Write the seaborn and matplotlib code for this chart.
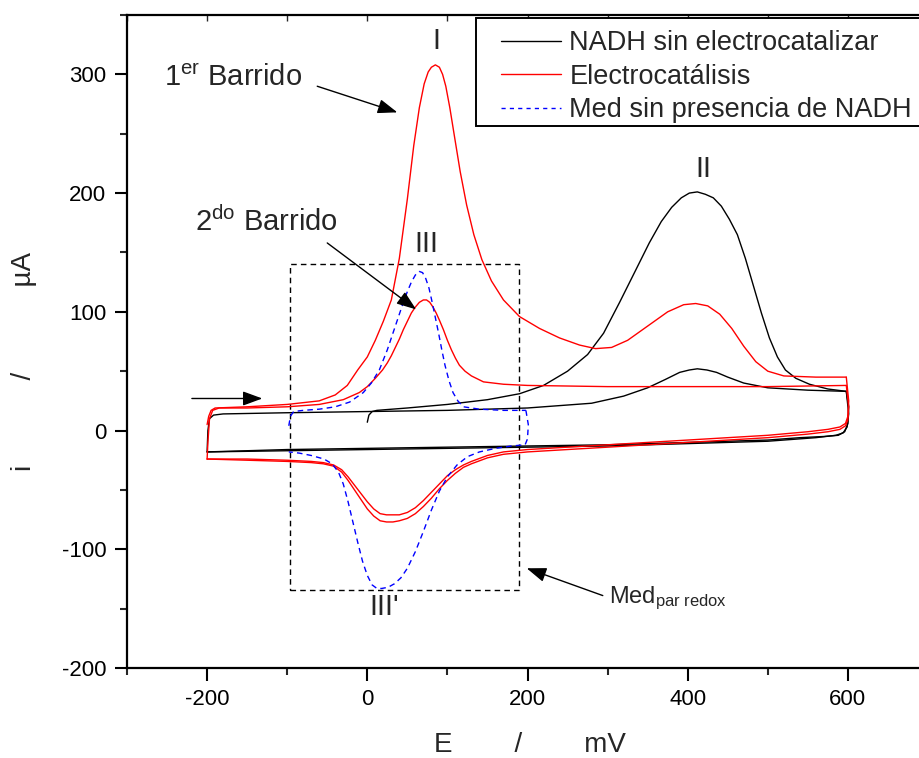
import numpy as np
import pandas as pd
import seaborn as sns
import matplotlib.pyplot as plt
from matplotlib.lines import Line2D
from matplotlib.patches import Rectangle

# ---- voltammogram branches (E in mV, i in uA) ----
# NADH without electrocatalyst
nadh_fwd1_E = [0, 2, 6, 12, 50, 100, 150, 190, 220, 250, 275, 295, 315, 335, 352, 367, 380, 392, 402,
               412, 422, 432, 442, 452, 462, 472, 482, 492, 502, 512, 522, 535, 552, 575, 598]
nadh_fwd1_i = [7, 13, 16, 17, 19, 22, 26, 31, 38, 50, 64, 82, 108, 135, 158, 176, 188, 196, 200,
               201, 199, 196, 189, 178, 165, 145, 122, 99, 78, 62, 51, 44, 39, 35, 33]
nadh_rev1_E = [598, 601, 600, 596, 588, 570, 540, 500, 400, 300, 200, 100, 0, -100, -200]
nadh_rev1_i = [33, 20, 6, -1, -4, -5, -6, -8, -10, -12, -13, -14, -15, -16, -18]
nadh_fwd2_E = [-200, -199, -197, -192, -180, -100, 0, 100, 200, 280, 320, 350, 372, 390, 402, 412,
               424, 436, 450, 470, 500, 550, 598]
nadh_fwd2_i = [-18, 0, 10, 13, 14, 15, 16, 17, 19, 23, 29, 36, 43, 49, 51, 52, 51, 49, 45, 40, 36, 34, 33]
nadh_rev2_E = [598, 601, 599, 594, 585, 560, 500, 400, 300, 200, 100, 0, -100, -200]
nadh_rev2_i = [33, 14, 3, -2, -4, -6, -9, -11, -13, -14, -15, -16, -17, -18]

# electrocatalysis, first sweep
cat_fwd1_E = [-200, -198, -195, -190, -150, -100, -60, -40, -25, -12, 0, 10, 20, 30, 40, 50, 58, 65,
              71, 76, 80, 85, 90, 94, 98, 103, 109, 116, 124, 133, 143, 155, 170, 190, 215, 240,
              265, 285, 305, 325, 350, 375, 395, 410, 425, 440, 455, 470, 485, 500, 520, 560, 598]
cat_fwd1_i = [5, 12, 17, 19, 20, 22, 25, 30, 38, 51, 62, 76, 92, 110, 145, 195, 240, 272,
              292, 302, 306, 308, 306, 300, 290, 272, 247, 218, 190, 165, 144, 126, 110, 96, 86, 78,
              72, 69, 70, 76, 88, 100, 106, 107, 105, 98, 86, 71, 58, 50, 46, 45, 45]
cat_rev1_E = [598, 601, 600, 597, 590, 575, 550, 500, 450, 400, 350, 300, 250, 200, 170, 150, 130,
              120, 110, 100, 90, 80, 70, 60, 50, 40, 32, 24, 16, 8, 0, -8, -16, -24, -32, -42, -55,
              -70, -100, -150, -200]
cat_rev1_i = [45, 25, 12, 6, 3, 1, -1, -4, -6, -8, -10, -12, -14, -16, -18, -21, -26,
              -29, -33, -38, -45, -52, -59, -65, -69, -71, -71, -71, -70, -66, -60, -53, -46, -39,
              -33, -29, -27, -26, -25, -24, -24]

# electrocatalysis, second sweep
cat_fwd2_E = [-200, -199, -197, -193, -185, -150, -100, -60, -30, -10, 0, 10, 19, 25, 30, 35, 40, 45,
              50, 55, 60, 65, 70, 74, 78, 82, 86, 90, 95, 100, 105, 110, 115, 122, 130, 145, 170,
              200, 300, 400, 500, 598]
cat_fwd2_i = [-24, -10, 10, 17, 19, 19, 20, 22, 26, 32, 37, 44, 51, 57, 63, 70, 77, 85,
              92, 99, 104, 108, 110, 110, 108, 104, 99, 93, 85, 76, 68, 61, 55, 50, 46, 41, 39,
              38, 37, 37, 37, 38]
cat_rev2_E = [598, 601, 600, 597, 590, 575, 550, 500, 450, 400, 350, 300, 250, 200, 170, 150, 130,
              120, 110, 100, 90, 80, 70, 60, 50, 40, 32, 24, 16, 8, 0, -8, -16, -24, -32, -42, -55,
              -70, -100, -150, -200]
cat_rev2_i = [38, 20, 9, 4, 1, -1, -3, -6, -8, -10, -12, -14, -16, -18, -20, -23, -28,
              -31, -36, -42, -49, -57, -64, -70, -74, -76, -77, -77, -76, -72, -66, -58, -50, -42,
              -35, -30, -28, -27, -26, -25, -24]

# mediator without NADH
med_fwd_E = [-98, -96, -92, -80, -60, -40, -22, -5, 5, 15, 25, 35, 45, 50, 55, 60, 65, 69, 73, 77,
             81, 85, 89, 93, 97, 102, 107, 113, 120, 140, 170, 198]
med_fwd_i = [4, 12, 16, 17, 18, 20, 24, 32, 40, 51, 68, 88, 108, 117, 125, 131, 134, 133, 128, 120,
             108, 95, 82, 68, 55, 42, 32, 25, 20, 18, 17, 17]
med_rev_E = [198, 201, 200, 197, 180, 160, 140, 125, 112, 100, 90, 80, 70, 60, 50, 42, 34, 26, 18,
             12, 6, 0, -6, -12, -18, -24, -30, -36, -44, -54, -70, -85, -98]
med_rev_i = [17, 5, -7, -12, -13, -15, -18, -22, -29, -39, -51, -67, -85, -102, -116, -124, -129,
             -132, -133, -133, -130, -122, -110, -94, -77, -60, -45, -35, -28, -24, -21, -19, -18]

series_names = ["NADH sin electrocatalizar", "Electrocatálisis", "Med sin presencia de NADH"]
series_colors = {series_names[0]: "black", series_names[1]: "#ff0000", series_names[2]: "#0000ff"}
series_dashes = {series_names[0]: "", series_names[1]: "", series_names[2]: (4, 3)}

branches = [
    (series_names[0], "n1", nadh_fwd1_E, nadh_fwd1_i),
    (series_names[0], "n2", nadh_rev1_E, nadh_rev1_i),
    (series_names[0], "n3", nadh_fwd2_E, nadh_fwd2_i),
    (series_names[0], "n4", nadh_rev2_E, nadh_rev2_i),
    (series_names[1], "c1", cat_fwd1_E, cat_fwd1_i),
    (series_names[1], "c2", cat_rev1_E, cat_rev1_i),
    (series_names[1], "c3", cat_fwd2_E, cat_fwd2_i),
    (series_names[1], "c4", cat_rev2_E, cat_rev2_i),
    (series_names[2], "m1", med_fwd_E, med_fwd_i),
    (series_names[2], "m2", med_rev_E, med_rev_i),
]
frames = []
for serie, tramo, E, i in branches:
    frames.append(pd.DataFrame({"E": E, "i": i, "serie": serie, "tramo": tramo}))
df = pd.concat(frames, ignore_index=True)

sns.set_theme(style="ticks")
plt.rcParams["font.family"] = ["Liberation Sans", "DejaVu Sans"]
plt.rcParams["mathtext.fontset"] = "custom"
plt.rcParams["mathtext.rm"] = "Liberation Sans"
plt.rcParams["mathtext.it"] = "Liberation Sans"
plt.rcParams["axes.unicode_minus"] = False

fig = plt.figure(figsize=(9.2, 7.58), dpi=100)
ax = fig.add_axes([127 / 920, 1 - 668 / 758, (928 - 127) / 920, (668 - 15) / 758])

sns.lineplot(data=df, x="E", y="i", hue="serie", style="serie", units="tramo",
             estimator=None, sort=False, palette=series_colors, dashes=series_dashes,
             linewidth=1.0, legend=False, ax=ax)

ax.set_xlim(-300, 700)
ax.set_ylim(-200, 350)
ax.set_xticks([-200, 0, 200, 400, 600])
ax.set_xticks(np.arange(-300, 701, 100), minor=True)
ax.set_yticks([-200, -100, 0, 100, 200, 300])
ax.set_yticks(np.arange(-200, 351, 50), minor=True)
ax.tick_params(axis="both", which="major", direction="out", length=9, width=1.5,
               labelsize=16, colors="black", pad=6)
ax.tick_params(axis="both", which="minor", direction="out", length=5, width=1.5)
for side in ["left", "bottom", "top", "right"]:
    ax.spines[side].set_linewidth(1.6)
    ax.spines[side].set_color("black")

top = ax.secondary_xaxis("top")
top.set_xticks(np.arange(-300, 701, 100))
top.tick_params(direction="in", length=4, width=1, labeltop=False)

ax.set_xlabel("E        /        mV", fontsize=20)
ax.set_ylabel("i           /           µA", fontsize=20)
ax.xaxis.set_label_coords(0.503, -0.118)
ax.xaxis.label.set_va("center")
ax.yaxis.set_label_coords(-0.128, 0.47)
ax.yaxis.label.set_va("center")

# window around the mediator redox pair
ax.add_patch(Rectangle((-96, -134), 286, 274, fill=False, edgecolor="black",
                       linestyle=(0, (4, 3)), linewidth=1.0))

# peak labels
ax.text(86, 328, "I", fontsize=21, ha="center", va="center")
ax.text(419, 220, "II", fontsize=21, ha="center", va="center")
ax.text(74, 157, "III", fontsize=21, ha="center", va="center")
ax.text(21, -149, "III'", fontsize=21, ha="center", va="center")
ax.text(-254, 297, r"1$^{\mathrm{er}}$ Barrido", fontsize=21, ha="left", va="center")
ax.text(-215, 176, r"2$^{\mathrm{do}}$ Barrido", fontsize=21, ha="left", va="center")
ax.text(302, -141, r"Med$_{\mathrm{par\ redox}}$", fontsize=17, ha="left", va="center")

arrow = dict(arrowstyle="-|>,head_length=0.6,head_width=0.22", color="black", lw=1.0,
             shrinkA=0, shrinkB=0, mutation_scale=20)
ax.annotate("", xy=(37.5, 268), xytext=(-62.5, 290), arrowprops=arrow)
ax.annotate("", xy=(61, 102), xytext=(-50, 158), arrowprops=arrow)
ax.annotate("", xy=(-131, 27), xytext=(-219, 27), arrowprops=arrow)
ax.annotate("", xy=(199, -116), xytext=(294, -139), arrowprops=arrow)

# legend box (opaque, running off the right edge) and its entries
fig.add_artist(Rectangle((476 / 920, 1 - 126 / 758), 0.6, 108 / 758, transform=fig.transFigure,
                         facecolor="white", edgecolor="black", linewidth=1.4, zorder=4))
handles = [Line2D([], [], color=series_colors[n], lw=1.0,
                  linestyle=(0, (3, 3)) if n == series_names[2] else "-") for n in series_names]
leg = fig.legend(handles, series_names, loc="upper left", bbox_to_anchor=(501 / 920, 1 - 30 / 758),
                 borderaxespad=0, fontsize=19.5, frameon=False, handlelength=2.2,
                 handletextpad=0.32, borderpad=0, labelspacing=0.28)
leg.set_zorder(5)

fig.savefig("out.png", dpi=100)
